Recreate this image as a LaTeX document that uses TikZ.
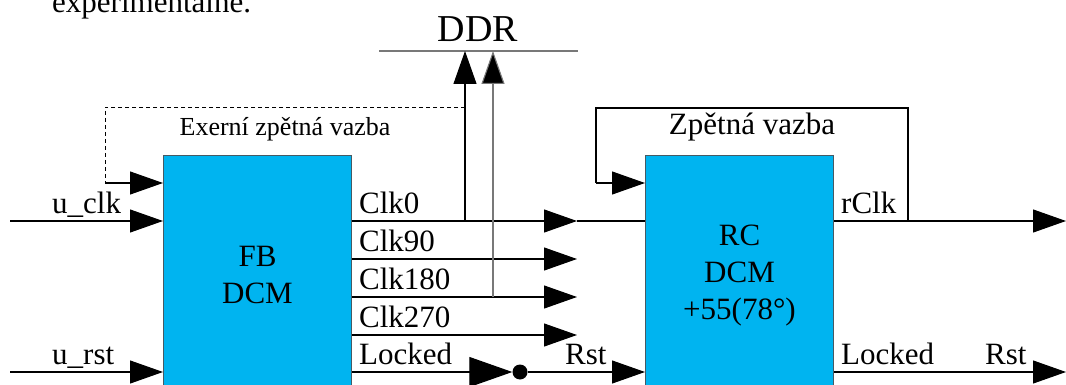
\documentclass[tikz,border=0pt]{standalone}
\usepackage{fontspec}
\setmainfont{Liberation Serif}
\usetikzlibrary{arrows.meta}
\definecolor{dcmblue}{RGB}{0,180,240}
\definecolor{boxedge}{RGB}{70,90,100}
\definecolor{busgray}{RGB}{120,120,120}
\begin{document}
\begin{tikzpicture}[x=1pt,y=-1pt,
  wire/.style={line width=1.1pt, draw=black},
  tip/.style={-{Triangle[length=33pt,width=23pt]}},
  dcm/.style={draw=boxedge, fill=dcmblue, line width=1pt, minimum width=188pt,
    minimum height=240pt, inner sep=0pt, align=center,
    font=\fontsize{31}{37}\selectfont},
  lbl/.style={anchor=base west, inner sep=0pt, font=\fontsize{31}{37}\selectfont},
  lblc/.style={anchor=base, inner sep=0pt, font=\fontsize{31}{37}\selectfont}]
\useasboundingbox (0,0) rectangle (1066,385);

% top text (cut off)
\node[lbl] (exp) at (52,13) {experimentálně.};

% blocks
\node[dcm, anchor=north west] (fb) at (163,155) {FB\\DCM};
\node[dcm, anchor=north west] (rc) at (645,155) {RC\\DCM\\+55(78°)};

% DDR bus
\node[anchor=base, inner sep=0pt, font=\fontsize{38}{44}\selectfont] (ddr) at (478,42) {DDR};
\coordinate (busl) at (379,51);
\coordinate (busr) at (578,51);
\draw[line width=1.3pt, draw=busgray] (busl) -- (busr);

% inputs of FB
\coordinate (uclk) at (10,221);
\coordinate (urst) at (10,372);
\draw[wire,tip] (uclk) -- (uclk -| fb.west);
\draw[wire,tip] (urst) -- (urst -| fb.west);
\node[lbl] (luclk) at (52,213) {u\_clk};
\node[lbl] (lurst) at (52,364) {u\_rst};

% outputs of FB
\coordinate (c0) at (577,221);
\coordinate (c90) at (577,259);
\coordinate (c180) at (577,297);
\coordinate (c270) at (577,335);
\draw[wire,tip] (c0 -| fb.east) -- (c0);
\draw[wire] (c0) -- (c0 -| rc.west);
\draw[wire,tip] (c90 -| fb.east) -- (c90);
\draw[wire,tip] (c180 -| fb.east) -- (c180);
\draw[wire,tip] (c270 -| fb.east) -- (c270);
\node[lbl] (lc0) at (359,213) {Clk0};
\node[lbl] (lc90) at (359,251) {Clk90};
\node[lbl] (lc180) at (359,289) {Clk180};
\node[lbl] (lc270) at (359,327) {Clk270};
\node[lbl] (llk) at (359,364) {Locked};

% taps to DDR
\coordinate (tap0) at (465,221);
\coordinate (tap180) at (493,297);
\draw[wire,tip] (tap0) -- (tap0 |- busl);
\draw[line width=1.1pt, draw=busgray, -{Triangle[length=33pt,width=23pt,fill=black]}] (tap180) -- (tap180 |- busl);

% external feedback (dashed)
\coordinate (fbk) at (465,107);
\coordinate (fbc) at (105,107);
\coordinate (fbd) at (105,183);
\draw[line width=0.9pt, dashed, dash pattern=on 4pt off 3pt] (fbk) -- (fbc) -- (fbd);
\draw[wire,tip] (fbd) -- (fbd -| fb.west);
\node[anchor=base, inner sep=0pt, font=\fontsize{26}{30}\selectfont] (lext) at (285,136) {Exerní zpětná vazba};

% Locked -> inverter -> Rst
\coordinate (lk) at (351,372);
\node[circle, fill=black, minimum size=15pt, inner sep=0pt] (inv) at (520,372) {};
\draw[wire,-{Triangle[length=43pt,width=30pt]}] (lk -| fb.east) -- (inv.west);
\draw[wire,tip] (inv) -- (inv -| rc.west);
\node[lbl] (lrst1) at (565,364) {Rst};

% RC feedback
\coordinate (rfb) at (908,221);
\coordinate (rfa) at (908,108);
\coordinate (rfb2) at (596,108);
\coordinate (rfc) at (596,183);
\draw[wire] (rc.east |- rfb) -- (rfb) -- (rfa) -- (rfb2) -- (rfc);
\draw[wire,tip] (rfc) -- (rfc -| rc.west);
\node[lblc] (lfb) at (752,135) {Zpětná vazba};

% RC outputs
\coordinate (rout) at (1066,221);
\coordinate (lout) at (1066,372);
\draw[wire,tip] (rfb) -- (rout);
\draw[wire,tip] (lout -| rc.east) -- (lout);
\node[lbl] (lrclk) at (841,213) {rClk};
\node[lbl] (llk2) at (841,364) {Locked};
\node[lbl] (lrst2) at (985,364) {Rst};
\end{tikzpicture}
\end{document}
